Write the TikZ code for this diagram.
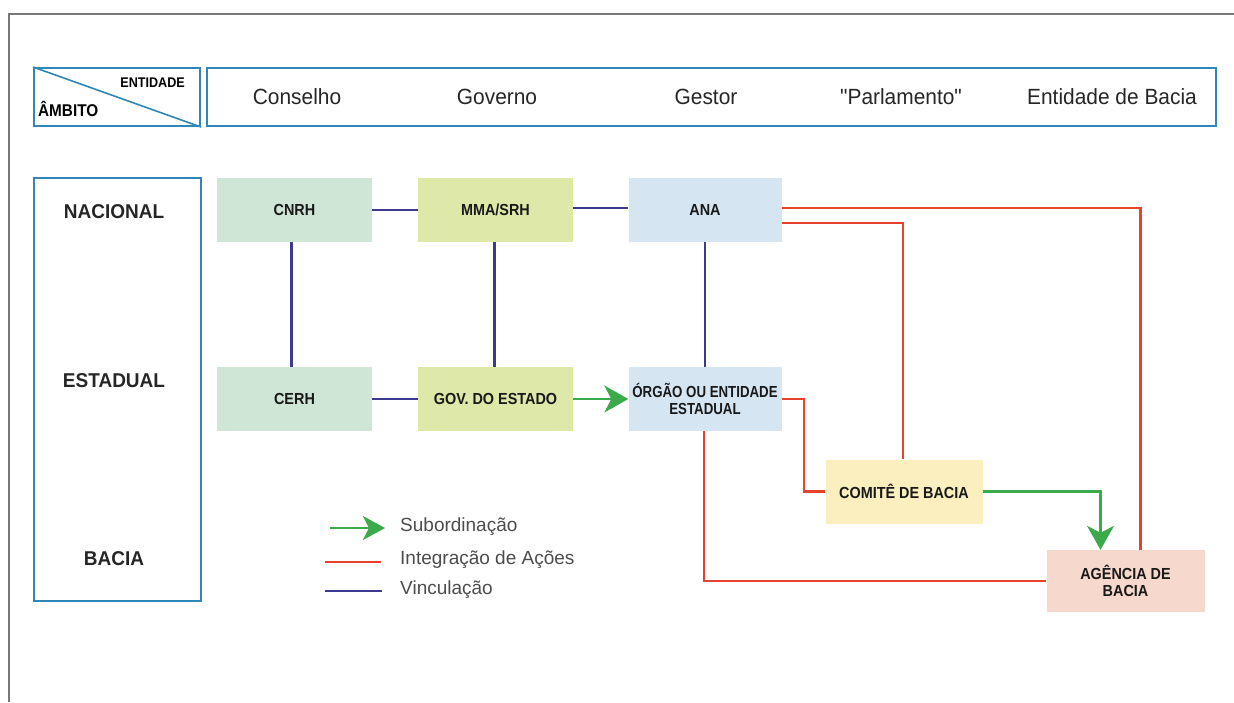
\documentclass[tikz,border=0pt]{standalone}
\usepackage{fontspec}
\setmainfont{Liberation Sans}
\newfontfamily\headfont{Liberation Sans}[FakeStretch=0.95]
\newfontfamily\narrowbf{Liberation Sans Bold}[FakeStretch=0.9]
\newfontfamily\orgfont{Liberation Sans Bold}[FakeStretch=0.83]
\newfontfamily\levelfont{Liberation Sans Bold}[FakeStretch=0.95]
\newfontfamily\legendfont{Liberation Sans}[FakeStretch=1.0]
\usetikzlibrary{arrows.meta}
\definecolor{frameblue}{HTML}{2F86B8}
\definecolor{vinc}{HTML}{3C3A8F}
\definecolor{integ}{HTML}{E8412C}
\definecolor{subord}{HTML}{3AAA4A}
\definecolor{fgreen}{HTML}{CFE5D6}
\definecolor{fyellowgreen}{HTML}{DDE8A9}
\definecolor{fblue}{HTML}{D5E6F2}
\definecolor{fyellow}{HTML}{FBEFBF}
\definecolor{fpeach}{HTML}{F6D9CC}
\definecolor{outergray}{HTML}{777777}
\begin{document}
\begin{tikzpicture}[x=1pt,y=-1pt,
  orgbox/.style={minimum width=155pt,minimum height=64pt,inner sep=0pt,align=center,
     font=\narrowbf\fontsize{16}{17}\selectfont,text=black!90},
  framebox/.style={draw=frameblue,line width=2pt,inner sep=0pt},
  vline/.style={draw=vinc,line width=2.2pt},
  rline/.style={draw=integ,line width=2.2pt},
  gline/.style={draw=subord,line width=2.2pt,-{Stealth[length=24pt,width=27pt,inset=7pt]}},
  headtxt/.style={font=\headfont\fontsize{22}{24}\selectfont,text=black!85},
  leveltxt/.style={font=\levelfont\fontsize{20}{22}\selectfont,text=black!85},
  legtxt/.style={anchor=west,font=\legendfont\fontsize{19}{21}\selectfont,text=black!70,inner sep=0pt}
]
\useasboundingbox (0,0) rectangle (1234,702);
% outer frame
\draw[outergray,line width=2pt] (9,702) -- (9,14) -- (1234,14);

% header
\node[framebox,minimum width=166pt,minimum height=58pt] (corner) at (117,97) {};
\draw[frameblue,line width=1.6pt] (corner.north west) -- (corner.south east);
\node[font=\narrowbf\fontsize{14}{15}\selectfont,anchor=east,inner sep=0pt] (entidade) at (185,83) {ENTIDADE};
\node[font=\narrowbf\fontsize{17}{18}\selectfont,anchor=west,inner sep=0pt] (ambito) at (38,109) {ÂMBITO};
\node[framebox,minimum width=1009pt,minimum height=58pt] (header) at (711.5,97) {};
\node[headtxt] (conselho) at (297,97) {Conselho};
\node[headtxt] (governo) at (497,97) {Governo};
\node[headtxt] (gestor) at (706,97) {Gestor};
\node[headtxt] (parlamento) at (901,97) {"Parlamento"};
\node[headtxt] (entbacia) at (1112,97) {Entidade de Bacia};

% level column
\node[framebox,minimum width=167pt,minimum height=423pt] (levels) at (117.5,389.5) {};
\node[leveltxt] (nacional) at (114,212) {NACIONAL};
\node[leveltxt] (estadual) at (114,381) {ESTADUAL};
\node[leveltxt] (bacia) at (114,559) {BACIA};

% organisations
\node[orgbox,fill=fgreen] (cnrh) at (294.5,210) {CNRH};
\node[orgbox,fill=fyellowgreen] (mma) at (495.5,210) {MMA/SRH};
\node[orgbox,fill=fblue,minimum width=153pt] (ana) at (705,210) {ANA};
\node[orgbox,fill=fgreen] (cerh) at (294.5,399) {CERH};
\node[orgbox,fill=fyellowgreen] (gov) at (495.5,399) {GOV. DO ESTADO};
\node[orgbox,fill=fblue,minimum width=153pt,font=\orgfont\fontsize{16}{17}\selectfont] (orgao) at (705,399) {ÓRGÃO OU ENTIDADE\\ESTADUAL};
\node[orgbox,fill=fyellow,minimum width=157pt] (comite) at (904,491.5) {COMITÊ DE BACIA};
\node[orgbox,fill=fpeach,minimum width=158pt,minimum height=62pt] (agencia) at (1125.5,581) {AGÊNCIA DE\\BACIA};

% vinculação
\draw[vline] (cnrh.east) -- (mma.west);
\draw[vline] ([yshift=2pt]mma.east) -- ([yshift=2pt]ana.west);
\draw[vline] ([xshift=-3pt]cnrh.south) -- ([xshift=-3pt]cerh.north);
\draw[vline] ([xshift=-1pt]mma.south) -- ([xshift=-1pt]gov.north);
\draw[vline] (ana.south) -- (orgao.north);
\draw[vline] (cerh.east) -- (gov.west);

% integração
\draw[rline] ([yshift=2pt]ana.east) -| ([xshift=15pt]agencia.north);
\draw[rline] ([yshift=-13pt]ana.east) -| ([xshift=-1pt]comite.north);
\draw[rline] (orgao.east) -- ++(22,0) |- (comite.west);
\draw[rline] ([xshift=-1pt]orgao.south) |- (agencia.west);

% subordinação
\draw[gline] (gov.east) -- (orgao.west);
\draw[gline] (comite.east) -| ([xshift=-25pt]agencia.north);

% legend
\coordinate (lg1a) at (330,528); \coordinate (lg1b) at (385,528);
\coordinate (lg2a) at (325,562); \coordinate (lg2b) at (381,562);
\coordinate (lg3a) at (325,591); \coordinate (lg3b) at (382,591);
\draw[gline,-{Stealth[length=22pt,width=24pt,inset=6pt]}] (lg1a) -- (lg1b);
\draw[rline] (lg2a) -- (lg2b);
\draw[vline] (lg3a) -- (lg3b);
\node[legtxt] (lsub) at (400,527) {Subordinação};
\node[legtxt] (lint) at (400,560) {Integração de Ações};
\node[legtxt] (lvin) at (400,590) {Vinculação};
\end{tikzpicture}
\end{document}
